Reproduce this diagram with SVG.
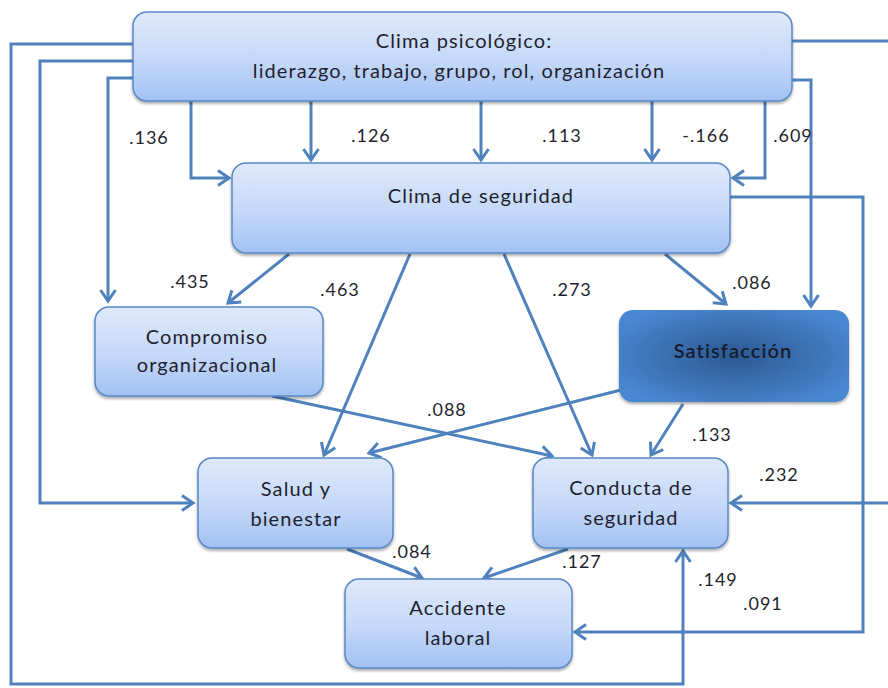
<svg xmlns="http://www.w3.org/2000/svg" width="888" height="688" viewBox="0 0 888 688">
  <style>
    .box { fill: url(#lightFill); stroke: #5a89c8; stroke-width: 1.5; filter: url(#shadow); }
    .dark { fill: url(#darkFill); stroke: none; filter: url(#shadow); }
    .lbl { font-family: Lato, "Open Sans", sans-serif; font-size: 20px; letter-spacing: 1.1px; fill: #1f1f2e; text-anchor: middle; }
    .num { font-family: Lato, "Open Sans", sans-serif; font-size: 18px; letter-spacing: 1px; fill: #1f1f2e; text-anchor: middle; }
    .wire { fill: none; stroke: #4f81bd; stroke-width: 3; stroke-linejoin: miter; }
    .arr { marker-end: url(#head); }
  </style>
  <defs>
    <linearGradient id="lightFill" x1="0" y1="0" x2="0" y2="1">
      <stop offset="0" stop-color="#dfe9fb"/>
      <stop offset="0.55" stop-color="#c4d8f8"/>
      <stop offset="1" stop-color="#a2c1f3"/>
    </linearGradient>
    <radialGradient id="darkFill" cx="0.5" cy="0.5" r="0.6">
      <stop offset="0" stop-color="#2c5892"/>
      <stop offset="1" stop-color="#4a87d2"/>
    </radialGradient>
    <filter id="shadow" x="-10%" y="-10%" width="120%" height="130%">
      <feDropShadow dx="0" dy="2" stdDeviation="1.5" flood-color="#000" flood-opacity="0.35"/>
    </filter>
    <marker id="head" markerUnits="userSpaceOnUse" markerWidth="22" markerHeight="22" refX="13" refY="9" orient="auto">
      <path d="M2,1.5 L13,9 L2,16.5" fill="none" stroke="#4f81bd" stroke-width="3"/>
    </marker>
  </defs>

  <!-- connectors -->
  <g id="connectors">
    <!-- clima psicologico: outer loops on the left -->
    <path class="wire arr" d="M133,44 H11 V684 H683 V551"/>
    <path class="wire arr" d="M133,61 H40 V503 H193"/>
    <path class="wire arr" d="M133,78 H108 V301"/>
    <!-- clima psicologico -> clima de seguridad -->
    <path class="wire arr" d="M191,101 V178 H229"/>
    <path class="wire arr" d="M311,101 V160"/>
    <path class="wire arr" d="M481,101 V160"/>
    <path class="wire arr" d="M652,101 V160"/>
    <path class="wire arr" d="M765,101 V178 H733"/>
    <!-- clima psicologico -> satisfaccion -->
    <path class="wire arr" d="M792,80 H811 V306"/>
    <!-- clima psicologico -> conducta (leaves and re-enters at the right edge) -->
    <path class="wire" d="M792,41 H890"/>
    <path class="wire arr" d="M890,503 H731"/>
    <!-- clima de seguridad -> accidente -->
    <path class="wire arr" d="M730,197 H863 V632 H575"/>
    <!-- from clima de seguridad -->
    <path class="wire arr" d="M289,254 L228,303"/>
    <path class="wire arr" d="M410,254 L324,455"/>
    <path class="wire arr" d="M504,254 L592,455"/>
    <path class="wire arr" d="M665,254 L726,304"/>
    <!-- cross paths -->
    <path class="wire arr" d="M272,396 L552,456"/>
    <path class="wire arr" d="M621,390 L369,453"/>
    <path class="wire arr" d="M683,404 L651,455"/>
    <!-- into accidente -->
    <path class="wire arr" d="M347,549 L422,578"/>
    <path class="wire arr" d="M568,549 L484,578"/>
  </g>

  <g id="clima-psicologico">
    <rect class="box" x="133" y="12" width="659" height="89" rx="14"/>
    <text class="lbl" x="464" y="48">Clima psicológico:</text>
    <text class="lbl" x="459" y="78">liderazgo, trabajo, grupo, rol, organización</text>
  </g>

  <g id="clima-seguridad">
    <rect class="box" x="232" y="163" width="498" height="90" rx="14"/>
    <text class="lbl" x="481" y="203">Clima de seguridad</text>
  </g>

  <g id="compromiso">
    <rect class="box" x="95" y="307" width="228" height="89" rx="14"/>
    <text class="lbl" x="207" y="344">Compromiso</text>
    <text class="lbl" x="207" y="372">organizacional</text>
  </g>

  <g id="satisfaccion">
    <rect class="dark" x="619" y="310" width="230" height="92" rx="14"/>
    <text class="lbl" x="733" y="358" style="font-weight:600;fill:#141c2c">Satisfacción</text>
  </g>

  <g id="salud">
    <rect class="box" x="198" y="458" width="195" height="90" rx="14"/>
    <text class="lbl" x="296" y="496">Salud y</text>
    <text class="lbl" x="296" y="526">bienestar</text>
  </g>

  <g id="conducta">
    <rect class="box" x="533" y="458" width="195" height="90" rx="14"/>
    <text class="lbl" x="631" y="495">Conducta de</text>
    <text class="lbl" x="631" y="525">seguridad</text>
  </g>

  <g id="accidente">
    <rect class="box" x="345" y="579" width="227" height="89" rx="14"/>
    <text class="lbl" x="458" y="615">Accidente</text>
    <text class="lbl" x="458" y="645">laboral</text>
  </g>

  <!-- path coefficients -->
  <g id="coefficients">
    <text class="num" x="149" y="144">.136</text>
    <text class="num" x="371" y="142">.126</text>
    <text class="num" x="562" y="142">.113</text>
    <text class="num" x="706" y="142">-.166</text>
    <text class="num" x="793" y="142">.609</text>
    <text class="num" x="190" y="288">.435</text>
    <text class="num" x="340" y="296">.463</text>
    <text class="num" x="572" y="296">.273</text>
    <text class="num" x="752" y="289">.086</text>
    <text class="num" x="447" y="416">.088</text>
    <text class="num" x="712" y="441">.133</text>
    <text class="num" x="779" y="481">.232</text>
    <text class="num" x="412" y="558">.084</text>
    <text class="num" x="582" y="568">.127</text>
    <text class="num" x="718" y="586">.149</text>
    <text class="num" x="763" y="610">.091</text>
  </g>
</svg>
